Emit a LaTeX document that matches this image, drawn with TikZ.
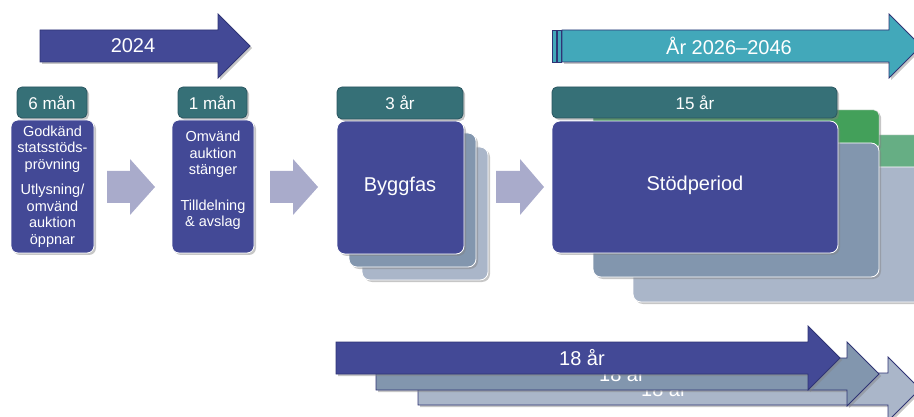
\documentclass[tikz,border=0pt]{standalone}
\usepackage{fontspec}
\setmainfont{Liberation Sans}
\usetikzlibrary{shadows}
\definecolor{indigo}{HTML}{434996}
\definecolor{navy}{HTML}{2F3475}
\definecolor{tealhd}{HTML}{367077}
\definecolor{tealbd}{HTML}{2A5560}
\definecolor{cyanarr}{HTML}{42A8BA}
\definecolor{slate}{HTML}{8296AE}
\definecolor{slatelt}{HTML}{AAB6C9}
\definecolor{greendk}{HTML}{43A05A}
\definecolor{greenlt}{HTML}{66AE84}
\definecolor{flowarr}{HTML}{A9ABCB}
\newcommand\myarrow[5]{%
  \path[#5] ({#1},{#4-16}) -- ({#2},{#4-16}) -- ({#2},{#4-32}) -- ({#3},{#4})
    -- ({#2},{#4+32}) -- ({#2},{#4+16}) -- ({#1},{#4+16}) -- cycle;}
\newcommand\myflow[3]{%
  \path[flowshape] ({#1},171) -- ({#2},171) -- ({#2},159) -- ({#3},187)
    -- ({#2},215) -- ({#2},203) -- ({#1},203) -- cycle;}
\tikzset{
  shd/.style={drop shadow={opacity=0.45,shadow xshift=2pt,shadow yshift=-2pt}},
  bigarrow/.style={draw=navy,line width=0.8pt,shd},
  flowshape/.style={fill=flowarr},
  hdr/.style={draw=tealbd,fill=tealhd,rounded corners=5pt,line width=0.8pt,shd},
  card/.style={draw=white,fill=indigo,rounded corners=7pt,line width=0.8pt,shd},
  layer/.style={draw=white,rounded corners=8pt,line width=0.8pt,shd},
  greenhd/.style={rounded corners=5pt,draw=white!80!gray,line width=0.5pt,shd},
  lblbig/.style={text=white,font=\fontsize{20}{24}\selectfont},
  lblhd/.style={text=white,font=\fontsize{17}{20}\selectfont},
  lblcard/.style={text=white,align=center,font=\fontsize{14.5}{16.5}\selectfont},
}
\begin{document}
\begin{tikzpicture}[x=1pt,y=-1pt]
\useasboundingbox (0,0) rectangle (914,417);
\clip (0,0) rectangle (914,417);

% top arrows
\myarrow{40}{218}{250}{46}{bigarrow,fill=indigo}
\node[lblbig] (y2024) at (133,46) {2024};
\path[draw=navy,fill=cyanarr,line width=0.8pt] (552,30) rectangle (556,62);
\path[draw=navy,fill=cyanarr,line width=0.8pt] (557,30) rectangle (561,62);
\myarrow{562}{889}{921}{46}{bigarrow,fill=cyanarr}
\node[lblbig] (yrange) at (729,46) {År 2026–2046};

% first card
\path[hdr] (17,87) rectangle (87,118);
\node[lblhd] (h6) at (52,102.5) {6 mån};
\path[card] (11,120) rectangle (94,253);
\node[lblcard] (c1) at (52.5,186.5) {Godkänd\\statsstöds-\\prövning\\[9pt]Utlysning/\\omvänd\\auktion\\öppnar};

% second card
\path[hdr] (178,87) rectangle (247,118);
\node[lblhd] (h1) at (212.5,102.5) {1 mån};
\path[card] (172,120) rectangle (254,253);
\node[lblcard] (c2) at (213,180.5) {Omvänd\\auktion\\stänger\\[19pt]Tilldelning\\\& avslag};

% flow arrows
\myflow{107}{130}{155}
\myflow{270}{293}{318}
\myflow{496}{520}{544}

% Byggfas stack
\path[layer,fill=slatelt] (362,147) rectangle (488,280);
\path[layer,fill=slate] (349,133) rectangle (476,267);
\path[card,rounded corners=8pt] (337,121) rectangle (464,254);
\node[lblbig] (bygg) at (400,186) {Byggfas};
\path[hdr] (337,87) rectangle (463,119);
\node[lblhd] (h3) at (400,103) {3 år};

% Stödperiod stack
\path[greenhd,fill=greenlt] (633,135) rectangle (940,175);
\path[layer,fill=slatelt] (633,167) rectangle (940,302);
\path[greenhd,fill=greendk] (593,110) rectangle (879,150);
\path[layer,fill=slate] (593,143) rectangle (879,277);
\path[card,rounded corners=8pt] (552,121) rectangle (838,253);
\node[lblbig] (stod) at (695,185) {Stödperiod};
\path[hdr] (552,87) rectangle (837,118);
\node[lblhd] (h15) at (695,102.5) {15 år};

% bottom arrows
\myarrow{418}{888}{920}{389}{bigarrow,fill=slatelt}
\node[lblbig] (a3) at (664,389) {18 år};
\myarrow{376}{847}{879}{374}{bigarrow,fill=slate}
\node[lblbig] (a2) at (622,374) {18 år};
\myarrow{336}{808}{840}{358}{bigarrow,fill=indigo}
\node[lblbig] (a1) at (582,358) {18 år};
\end{tikzpicture}
\end{document}
